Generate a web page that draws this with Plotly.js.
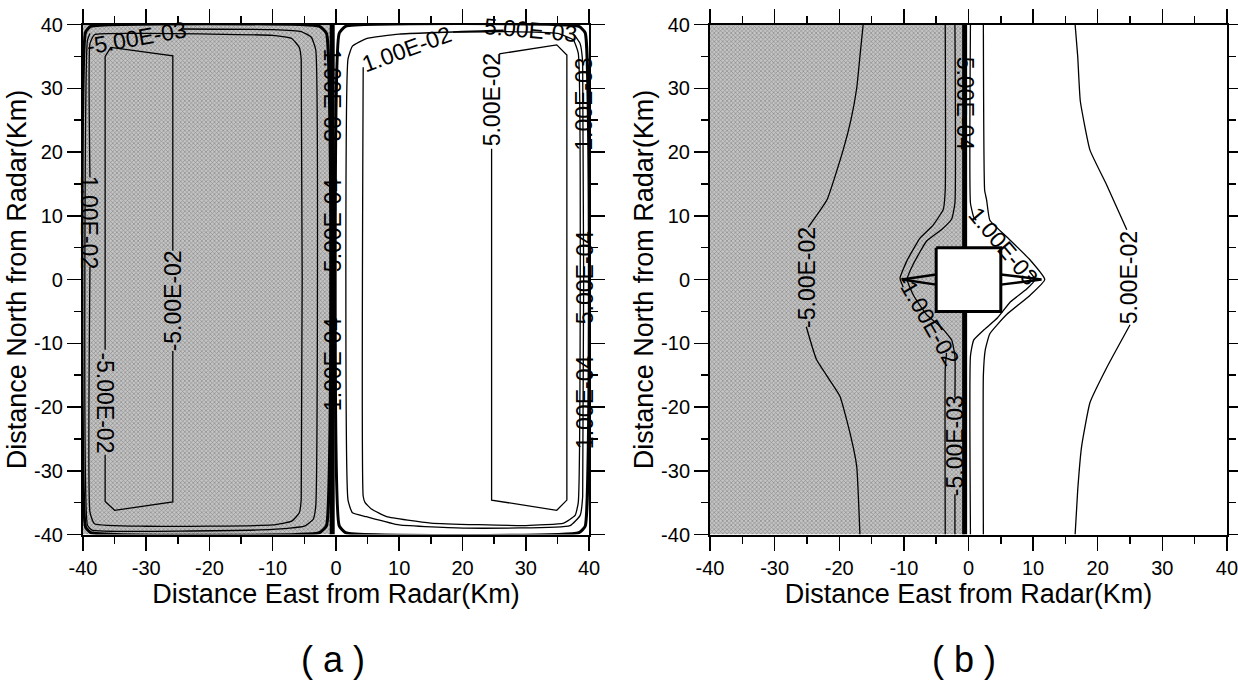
<!DOCTYPE html>
<html><head><meta charset="utf-8">
<script src="https://cdn.plot.ly/plotly-3.0.1.min.js"></script>
<style>html,body{margin:0;padding:0;background:#fff}</style>
</head><body><div id="chart" style="width:1238px;height:681px"></div>
<script>
// ---------- axis ticks ----------
const axisRange = [-40,40];
const tickVals = [-40,-30,-20,-10,0,10,20,30,40];
const tickText = ['-40','-30','-20','-10','0','10','20','30','40'];
const minorTickVals = [-35,-25,-15,-5,5,15,25,35];
const xTitle = 'Distance East from Radar(Km)';
const yTitle = 'Distance North from Radar(Km)';
const panelLabels = ['( a )','( b )'];

// ---------- panel (a) ----------
const aShadeX = [-40,-0.6,-0.6,-40];
const aShadeY = [-40,-40,40,40];
const aZeroX = [-0.6,-0.6];
const aZeroY = [-40,40];
const aEdgeNegX = [-39.6,-39.6,-38.8,-2.6,-1.5,-1.5,-2.6,-38.8,-39.6];
const aEdgeNegY = [-38.8,38.8,39.7,39.7,38.6,-38.6,-39.7,-39.7,-38.8];
const aEdgePosX = [0.5,0.5,1.5,38.4,39.4,39.4,38.4,1.5,0.5];
const aEdgePosY = [-38.6,38.6,39.7,39.7,38.7,-38.7,-39.7,-39.7,-38.6];
const aNeg5e3X = [-24.5,-10,-5.5,-3.9,-3.2,-3.2,-3.6,-5,-10,-38.6,-39.3,-39.3,-38.9];
const aNeg5e3Y = [39.3,39.2,38.9,38,36,-35.5,-37.6,-38.7,-39.2,-39.3,-38.5,37.5,38.6];
const aNeg1e2X = [-38.9,-38.9,-38.2,-30,-10,-7,-5.8,-5.5,-5.5,-5.8,-7,-10,-30,-38.2,-38.9,-38.9];
const aNeg1e2Y = [2,-36.5,-38.3,-38.7,-38.5,-37.9,-36.6,-34.5,34.5,36.4,37.8,38.3,38.6,38.4,37,16];
const aNeg5e2UpX = [-36.5,-36.5,-35.6,-25.8,-25.8];
const aNeg5e2UpY = [-11,35,36.4,35.1,4.5];
const aNeg5e2LoX = [-25.8,-25.8,-35,-36.5,-36.5];
const aNeg5e2LoY = [-11.2,-34.9,-36.2,-34.8,-27.5];
const aPos5e3X = [26.5,10,4.8,2.6,1.9,1.9,2.6,4.8,10,20.5,37,38.6,39,39,38.6,37.5];
const aPos5e3Y = [39.1,38.5,37.8,36.6,34.6,-34.6,-36.6,-37.2,-38.5,-39,-38.6,-37,-34,34,37,38.6];
const aPos1e2X = [18.5,27,35,37.5,38.3,38.3,37.8,36,30,15,8,5.6,4.6,4.3,4.3];
const aPos1e2Y = [38.8,38.9,38.6,37.6,35.5,-35,-37,-38.2,-38.6,-38.2,-37.2,-36,-35,-34,33.3];
const aPos5e2X = [24.6,24.6,34.9,36.5,36.5,34.9,25.8];
const aPos5e2Y = [20.5,-34.6,-36.2,-34.6,35.2,36.8,35.4];

// ---------- panel (b) ----------
const bShadeX = [-40,-0.6,-0.6,-5,-5,-0.6,-0.6,-40];
const bShadeY = [-40,-40,-5,-5,5,5,40,40];
const bZeroUpX = [-0.6,-0.6];
const bZeroUpY = [40,5];
const bZeroLoX = [-0.6,-0.6];
const bZeroLoY = [-5,-40];
const bSquareX = [-5,5,5,-5,-5];
const bSquareY = [5,5,-5,-5,5];
const bSpikeLX = [-5,-10.3,-5];
const bSpikeLY = [0.8,0,-0.8];
const bSpikeRX = [5,11.3,5];
const bSpikeRY = [0.8,0,-0.8];
const bNeg5e2UpX = [-16.3,-16.8,-17.3,-18.2,-19.4,-21.9,-24.8];
const bNeg5e2UpY = [40,35,30,25,20.3,12.5,8.2];
const bNeg5e2LoX = [-25.1,-23.5,-19.9,-18.1,-17.3,-16.8];
const bNeg5e2LoY = [-7.4,-12.6,-18.3,-25.1,-29.3,-40];
const bPos5e2UpX = [16.5,16.9,17.3,18.8,21.4,24.5];
const bPos5e2UpY = [40,35,28,20.3,14.8,7.8];
const bPos5e2LoX = [25,21.4,18.8,17.5,16.9,16.5];
const bPos5e2LoY = [-7.1,-13.8,-19.3,-26.2,-33,-40];
const bL1UpX = [-3.6,-3.6,-3.9,-5.5,-7.5,-9.5,-10.6,-10.1];
const bL1UpY = [40,14,11,8.5,6.5,3,0.2,-1.2];
const bL1LoX = [-3.4,-3.6,-3.6];
const bL1LoY = [-11.5,-14,-40];
const bL2UpX = [-2.1,-2.1,-2.6,-4.2,-6.5,-8.5,-9.5,-8.5,-6.5,-4.2,-2.6,-2.1,-2.1];
const bL2UpY = [40,12,9.5,7.8,6,2.5,0,-2.5,-5.5,-7.5,-9.5,-12,-18.5];
const bL2LoX = [-2.1,-2.1];
const bL2LoY = [-33.7,-40];
const bR1UpX = [0.3,0.3,0.8,1.2];
const bR1UpY = [40,12,9.8,9.3];
const bR1LoX = [9.4,10.3,9,6.5,4.5,2.5,0.8,0.3,0.3];
const bR1LoY = [1.3,0,-1.5,-3.5,-6,-7.8,-9.5,-12,-40];
const bR2X = [2.3,2.5,2.8,3.3,5.9,9.5,11.8,9.5,5.9,3.3,2.6,2.3,2.3];
const bR2Y = [40,14,12.5,9.3,6.7,3.1,0,-2.5,-5.5,-8.5,-11,-15,-40];

// ---------- contour labels: [text, x, y, angle] ----------
const aLabels = [
  ['-5.00E-03',-31.6,37.9,-10], ['1.00E-02',-39.0,9,90],
  ['-5.00E-02',-36.5,-19.3,90], ['-5.00E-02',-25.8,-3.3,-90],
  ['1.00E-03',-0.6,29,90], ['5.00E-04',-0.5,8.5,-90], ['1.00E-04',-0.5,-13.3,-90],
  ['1.00E-02',11.2,36.2,-20], ['5.00E-03',30.7,39.2,5], ['5.00E-02',24.6,28.2,-90],
  ['1.00E-03',39.3,27.5,-90], ['5.00E-04',39.3,0.3,-90], ['1.00E-04',39.3,-19.3,-90]
];
const bLabels = [
  ['-5.00E-02',-25.0,0.4,-90], ['5.00E-02',24.8,0.3,-90],
  ['5.00E-04',-0.4,27.6,90], ['-5.00E-03',-2.1,-26,-90],
  ['-1.00E-02',-6.2,-6.3,60], ['1.00E-03',5.4,5.3,50]
];

const traces = [];
function shade(x,y,xa,ya){
  traces.push({x:x,y:y,xaxis:xa,yaxis:ya,type:'scatter',mode:'lines',fill:'toself',
    fillcolor:'#bdbdbd',line:{width:0,color:'rgba(0,0,0,0)'},
    fillpattern:{shape:'x',size:3,solidity:0.4,fgcolor:'#8c8c8c',bgcolor:'#c4c4c4'},
    hoverinfo:'skip',showlegend:false});
}
function line(x,y,xa,ya,w){
  traces.push({x:x,y:y,xaxis:xa,yaxis:ya,type:'scatter',mode:'lines',
    line:{color:'#000',width:w,shape:'spline',smoothing:0.4},hoverinfo:'skip',showlegend:false});
}
function pline(x,y,xa,ya,w){
  traces.push({x:x,y:y,xaxis:xa,yaxis:ya,type:'scatter',mode:'lines',
    line:{color:'#000',width:w},hoverinfo:'skip',showlegend:false});
}
// panel a
shade(aShadeX,aShadeY,'x','y');
line(aEdgeNegX,aEdgeNegY,'x','y',3);
line(aEdgePosX,aEdgePosY,'x','y',3);
line(aNeg5e3X,aNeg5e3Y,'x','y',1.3);
line(aNeg1e2X,aNeg1e2Y,'x','y',1.3);
pline(aNeg5e2UpX,aNeg5e2UpY,'x','y',1.3);
pline(aNeg5e2LoX,aNeg5e2LoY,'x','y',1.3);
line(aPos5e3X,aPos5e3Y,'x','y',1.3);
line(aPos1e2X,aPos1e2Y,'x','y',1.3);
pline(aPos5e2X,aPos5e2Y,'x','y',1.3);
pline(aZeroX,aZeroY,'x','y',5);
// panel b
shade(bShadeX,bShadeY,'x2','y2');
line(bNeg5e2UpX,bNeg5e2UpY,'x2','y2',1.3);
line(bNeg5e2LoX,bNeg5e2LoY,'x2','y2',1.3);
line(bPos5e2UpX,bPos5e2UpY,'x2','y2',1.3);
line(bPos5e2LoX,bPos5e2LoY,'x2','y2',1.3);
line(bL1UpX,bL1UpY,'x2','y2',1.3);
line(bL1LoX,bL1LoY,'x2','y2',1.3);
line(bL2UpX,bL2UpY,'x2','y2',1.3);
line(bL2LoX,bL2LoY,'x2','y2',1.3);
line(bR1UpX,bR1UpY,'x2','y2',1.3);
line(bR1LoX,bR1LoY,'x2','y2',1.3);
line(bR2X,bR2Y,'x2','y2',1.3);
pline(bSpikeLX,bSpikeLY,'x2','y2',2.5);
pline(bSpikeRX,bSpikeRY,'x2','y2',2.5);
pline(bSquareX,bSquareY,'x2','y2',3);
pline(bZeroUpX,bZeroUpY,'x2','y2',5);
pline(bZeroLoX,bZeroLoY,'x2','y2',5);

const FONT = 'Liberation Sans, Arial, Helvetica, sans-serif';
function xax(dom, anchor){
  return {domain:dom, anchor:anchor, range:axisRange, tickmode:'array', tickvals:tickVals, ticktext:tickText,
    ticks:'outside', ticklen:14, tickwidth:1.5, tickcolor:'#000', showline:true, linewidth:2, linecolor:'#000',
    mirror:'ticks', showgrid:false, zeroline:false, ticklabeloverflow:'allow',
    tickfont:{size:20,color:'#000',family:FONT},
    minor:{tickmode:'array', tickvals:minorTickVals, ticks:'outside', ticklen:7, tickwidth:1.5, tickcolor:'#000', showgrid:false},
    title:{text:xTitle, font:{size:27,color:'#000',family:FONT}, standoff:4}};
}
function yax(dom, anchor){
  const a = xax(dom, anchor);
  a.title = {text:yTitle, font:{size:27,color:'#000',family:FONT}, standoff:0};
  return a;
}
const annotations = [];
function addLabels(list, xr, yr){
  list.forEach(function(l){
    annotations.push({text:l[0], x:l[1], y:l[2], xref:xr, yref:yr, textangle:l[3], showarrow:false,
      xanchor:'center', yanchor:'middle', font:{size:23,color:'#000',family:FONT}});
  });
}
addLabels(aLabels,'x','y');
addLabels(bLabels,'x2','y2');
annotations.push({text:panelLabels[0], x:0.269, y:0.031, xref:'paper', yref:'paper', xanchor:'center', yanchor:'middle', showarrow:false, font:{size:36,color:'#000',family:FONT}});
annotations.push({text:panelLabels[1], x:0.779, y:0.031, xref:'paper', yref:'paper', xanchor:'center', yanchor:'middle', showarrow:false, font:{size:36,color:'#000',family:FONT}});

const yDom = [0.2151, 0.9640];
const layout = {
  width:1238, height:681, margin:{l:0,r:0,t:0,b:0}, paper_bgcolor:'#fff', plot_bgcolor:'#fff',
  font:{family:FONT,color:'#000'}, showlegend:false,
  xaxis: xax([0.06704,0.47577],'y'), yaxis: yax(yDom,'x'),
  xaxis2: xax([0.57351,0.99111],'y2'), yaxis2: yax(yDom,'x2'),
  annotations: annotations
};
Plotly.newPlot('chart', traces, layout, {staticPlot:true, displayModeBar:false});
</script></body></html>
